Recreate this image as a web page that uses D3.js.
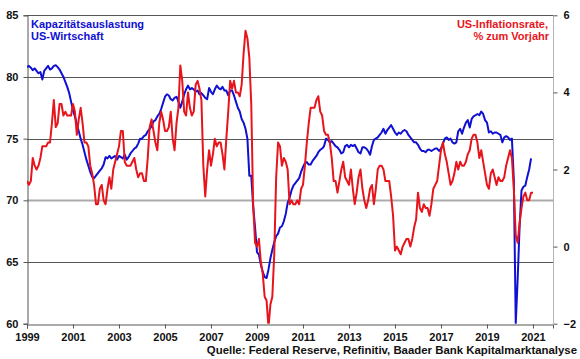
<!DOCTYPE html>
<html>
<head>
<meta charset="utf-8">
<script src="https://cdn.jsdelivr.net/npm/d3@7"></script>
<style>
  body { margin: 0; background: #fff; }
  svg text { font-family: Arial, "Liberation Sans", sans-serif; font-weight: bold; }
</style>
</head>
<body>
<div id="chart"></div>
<script>
// monthly values, first month Jan 1999
var startYear = 1999;

// Kapazitaetsauslastung US-Wirtschaft (%), Jan 1999 - Dec 2020
var capUtil = [
  80.8, 80.9, 80.75, 80.55, 80.7, 80.5, 80.3, 80.4, 79.8, 80.5, 80.7, 80.9,
  80.6, 80.7, 80.9, 80.95, 80.8, 80.6, 80.3, 80.0, 79.6, 79.2, 78.7, 78.0,
  77.3, 76.8, 76.2, 75.6, 75.0, 74.5, 73.9, 73.3, 72.8, 72.3, 71.9, 71.8,
  72.0, 72.2, 72.4, 72.6, 72.9, 73.5, 73.4, 73.6, 73.4, 73.5, 73.6, 73.3,
  73.6, 73.5, 73.4, 73.7, 73.3, 73.5, 73.8, 74.0, 74.2, 74.3, 74.6, 75.0,
  75.0, 75.2, 75.3, 75.6, 75.8, 76.0, 76.4, 76.5, 76.8, 77.0, 77.4, 77.9,
  78.4, 78.6, 78.5, 78.2, 78.1, 78.3, 78.4, 78.0, 77.5, 78.0, 78.6, 79.0,
  79.3, 79.0, 79.1, 79.0, 78.8, 78.9, 78.6, 78.7, 78.5, 78.3, 78.2, 79.1,
  78.8, 78.6, 79.0, 79.3, 79.1, 79.0, 79.2, 78.9, 78.9, 78.5, 78.9, 78.9,
  78.5, 78.0, 77.5, 77.2, 76.6, 76.3, 75.8, 75.0, 72.0, 72.0, 69.5, 67.8,
  65.8, 65.6, 64.8, 64.2, 63.8, 63.7, 64.4, 65.3, 66.0, 66.6, 67.1, 67.3,
  67.8, 67.9, 68.3, 68.9, 69.8, 70.2, 70.8, 71.2, 71.4, 71.6, 71.8, 72.3,
  72.7, 73.0, 73.1, 72.9, 72.9, 73.2, 73.4, 73.6, 73.9, 74.1, 74.2, 74.4,
  75.0, 74.9, 74.7, 74.8, 74.6, 74.4, 74.3, 74.1, 73.8, 73.9, 74.4, 74.5,
  74.3, 74.5, 74.4, 74.5, 74.2, 73.9, 73.8, 74.3, 74.3, 74.2, 74.0, 73.7,
  74.4, 74.9, 75.0, 75.1, 75.3, 75.5, 75.8, 75.4, 75.7, 75.9, 76.1, 75.8,
  75.5, 75.3, 75.5, 75.4, 75.6, 75.7, 75.6, 75.3, 75.1, 74.9, 74.7, 74.7,
  74.5, 74.2, 74.0, 74.0, 73.9, 74.1, 74.1, 74.0, 74.1, 74.2, 74.2, 74.0,
  74.2, 74.6, 75.0, 75.1, 74.9, 75.0, 74.7, 74.6, 74.7, 75.6, 75.8, 75.4,
  75.9, 76.3, 76.5, 75.9, 76.6, 76.8, 76.9, 77.0, 76.9, 77.2, 77.0, 76.5,
  76.3, 75.5, 75.6, 75.4, 75.5, 75.5, 75.4, 75.3, 74.7, 75.1, 75.2, 75.1,
  74.9, 75.0, 71.7, 60.0, 63.6, 67.8, 70.8, 71.1, 71.2, 71.9, 72.5, 73.4
];

// US-Inflationsrate, % zum Vorjahr, Jan 1999 - Jan 2021
var inflation = [
  1.7, 1.6, 1.7, 2.3, 2.1, 2.0, 2.1, 2.3, 2.6, 2.6, 2.6, 2.7,
  2.7, 3.2, 3.8, 3.1, 3.2, 3.7, 3.7, 3.4, 3.5, 3.4, 3.4, 3.4,
  3.7, 3.5, 2.9, 3.3, 3.6, 3.2, 2.7, 2.7, 2.6, 2.1, 1.9, 1.6,
  1.1, 1.1, 1.5, 1.6, 1.2, 1.1, 1.5, 1.8, 1.5, 2.0, 2.2, 2.4,
  2.6, 3.0, 3.0, 2.2, 2.1, 2.1, 2.1, 2.2, 2.3, 2.0, 1.8, 1.9,
  1.9, 1.7, 1.7, 2.3, 3.1, 3.3, 3.0, 2.7, 2.5, 3.2, 3.5, 3.3,
  3.0, 3.0, 3.1, 3.5, 2.8, 2.5, 3.2, 3.6, 4.7, 4.3, 3.5, 3.4,
  4.0, 3.6, 3.4, 3.5, 4.2, 4.3, 4.1, 3.8, 2.1, 1.3, 2.0, 2.5,
  2.1, 2.4, 2.8, 2.6, 2.7, 2.7, 2.4, 2.0, 2.8, 3.5, 4.3, 4.1,
  4.3, 4.0, 4.0, 3.9, 4.2, 5.0, 5.6, 5.4, 4.9, 3.7, 1.1, 0.1,
  0.0, 0.2, -0.4, -0.7, -1.3, -1.4, -2.1, -1.5, -1.3, -0.2, 1.8, 2.7,
  2.6, 2.1, 2.3, 2.2, 2.0, 1.1, 1.2, 1.1, 1.1, 1.2, 1.1, 1.5,
  1.6, 2.1, 2.7, 3.2, 3.6, 3.6, 3.6, 3.8, 3.9, 3.5, 3.4, 3.0,
  2.9, 2.9, 2.7, 2.3, 1.7, 1.7, 1.4, 1.7, 2.0, 2.2, 1.8, 1.7,
  1.6, 2.0, 1.5, 1.1, 1.4, 1.8, 2.0, 1.5, 1.2, 1.0, 1.2, 1.5,
  1.6, 1.1, 1.5, 2.0, 2.1, 2.1, 2.0, 1.7, 1.7, 1.7, 1.3, 0.8,
  -0.1, 0.0, -0.1, -0.2, 0.0, 0.1, 0.2, 0.2, 0.0, 0.2, 0.5, 0.7,
  1.4, 1.0, 0.9, 1.1, 1.0, 1.0, 0.8, 1.1, 1.5, 1.6, 1.7, 2.1,
  2.5, 2.7, 2.4, 2.2, 1.9, 1.6, 1.7, 1.9, 2.2, 2.0, 2.2, 2.1,
  2.1, 2.2, 2.4, 2.5, 2.8, 2.9, 2.9, 2.7, 2.3, 2.5, 2.2, 1.9,
  1.6, 1.5, 1.9, 2.0, 1.8, 1.6, 1.8, 1.7, 1.7, 1.8, 2.1, 2.3,
  2.5, 2.3, 1.5, 0.3, 0.1, 0.6, 1.0, 1.3, 1.4, 1.2, 1.2, 1.4,
  1.4
];

var xTickYears = [1999, 2001, 2003, 2005, 2007, 2009, 2011, 2013, 2015, 2017, 2019, 2021];
var leftTicks = [60, 65, 70, 75, 80, 85];
var rightTicks = [-2, 0, 2, 4, 6];

var blue = "#1010d2", red = "#e8141c";

var W = 580, H = 359;
var plot = {left: 27, right: 553, top: 15.3, bottom: 323.7};

var svg = d3.select("#chart").append("svg")
    .attr("width", W)
    .attr("height", H);

var x = d3.scaleLinear().domain([1999, 2021.87]).range([plot.left, plot.right]);
var yL = d3.scaleLinear().domain([60, 85]).range([plot.bottom, plot.top]);
var yR = d3.scaleLinear().domain([-2, 6]).range([plot.bottom, plot.top]);

// gridlines
svg.append("g").selectAll("line")
    .data(leftTicks.filter(function(d){ return d > 60; }))
    .enter().append("line")
    .attr("x1", plot.left).attr("x2", plot.right)
    .attr("y1", function(d){ return Math.round(yL(d)) + 0.5; })
    .attr("y2", function(d){ return Math.round(yL(d)) + 0.5; })
    .attr("stroke", function(d){ return d == 70 ? "#ababab" : "#555"; })
    .attr("stroke-width", function(d){ return d == 70 ? 2 : 1; });

// right axis line
svg.append("line")
    .attr("x1", plot.right + 0.5).attr("x2", plot.right + 0.5)
    .attr("y1", plot.top).attr("y2", plot.bottom)
    .attr("stroke", "#b5b5b5");

// left axis
var gL = svg.append("g")
    .attr("transform", "translate(" + (plot.left + 0.5) + ",0)")
    .call(d3.axisLeft(yL).tickValues(leftTicks).tickSize(4).tickPadding(5));

// right axis
var gR = svg.append("g")
    .attr("transform", "translate(" + (plot.right + 0.5) + ",0)")
    .call(d3.axisRight(yR).tickValues(rightTicks).tickSize(4).tickPadding(6));

// bottom axis
var gB = svg.append("g")
    .attr("transform", "translate(0," + (Math.round(plot.bottom) + 0.5) + ")")
    .call(d3.axisBottom(x).tickValues(xTickYears).tickFormat(d3.format("d")).tickSize(4).tickPadding(5));

[gL, gR, gB].forEach(function(g){
    g.selectAll("path, line").attr("stroke", "#555");
    g.selectAll("text").attr("fill", "#111").attr("font-size", 11)
        .attr("font-family", "Arial, 'Liberation Sans', sans-serif").attr("font-weight", "bold");
});
gR.select(".domain").remove();

// lines
svg.append("clipPath").attr("id", "clip")
  .append("rect")
    .attr("x", plot.left).attr("y", plot.top)
    .attr("width", plot.right - plot.left).attr("height", plot.bottom - plot.top);

var lineL = d3.line()
    .x(function(d, i){ return x(startYear + i / 12); })
    .y(function(d){ return yL(d); });
var lineR = d3.line()
    .x(function(d, i){ return x(startYear + i / 12); })
    .y(function(d){ return yR(d); });

var gLines = svg.append("g").attr("clip-path", "url(#clip)");
gLines.append("path").datum(capUtil)
    .attr("d", lineL).attr("fill", "none")
    .attr("stroke", blue).attr("stroke-width", 2).attr("stroke-linejoin", "round");
gLines.append("path").datum(inflation)
    .attr("d", lineR).attr("fill", "none")
    .attr("stroke", red).attr("stroke-width", 2).attr("stroke-linejoin", "round");

// titles
var tL = svg.append("text").attr("x", 31).attr("y", 28)
    .attr("font-size", 11).attr("fill", blue);
tL.append("tspan").attr("x", 31).text("Kapazitätsauslastung");
tL.append("tspan").attr("x", 31).attr("dy", 12).text("US-Wirtschaft");

var tR = svg.append("text").attr("x", 549).attr("y", 28)
    .attr("font-size", 11).attr("fill", red).attr("text-anchor", "end");
tR.append("tspan").attr("x", 548).text("US-Inflationsrate,");
tR.append("tspan").attr("x", 549).attr("dy", 12).text("% zum Vorjahr");

svg.append("text")
    .attr("x", 577).attr("y", 354)
    .attr("text-anchor", "end")
    .attr("font-size", 11.4).attr("fill", "#111")
    .text("Quelle: Federal Reserve, Refinitiv, Baader Bank Kapitalmarktanalyse");
</script>
</body>
</html>
